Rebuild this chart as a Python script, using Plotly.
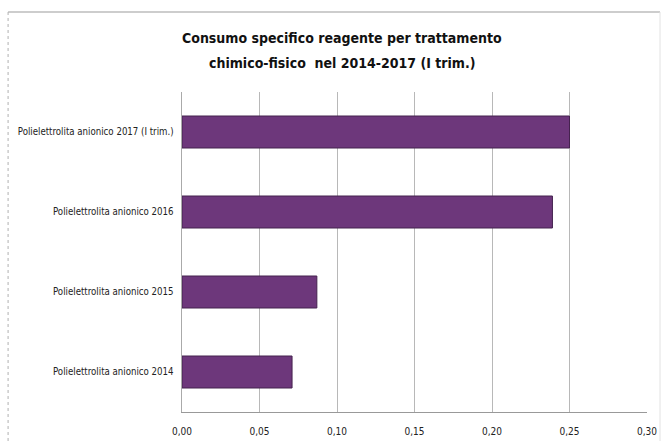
import plotly.graph_objects as go

categories = ["Polielettrolita anionico 2014", "Polielettrolita anionico 2015",
              "Polielettrolita anionico 2016", "Polielettrolita anionico 2017 (I trim.)"]
values = [0.071, 0.087, 0.239, 0.25]
tick_vals = [0, 0.05, 0.10, 0.15, 0.20, 0.25, 0.30]
tick_text = ["0,00", "0,05", "0,10", "0,15", "0,20", "0,25", "0,30"]
title_lines = ["Consumo specifico reagente per trattamento",
               "chimico-fisico  nel 2014-2017 (I trim.)"]

FONT = "DejaVu Sans Condensed, Roboto, sans-serif"

fig = go.Figure(go.Bar(
    x=values, y=categories, orientation="h",
    marker=dict(color="#6d377b", line=dict(color="#45224f", width=1)),
))

annotations = [
    dict(text=t, xref="paper", yref="paper", x=0.345, y=yy, xanchor="center",
         yanchor="middle", showarrow=False,
         font=dict(family=FONT, size=14, color="#111", weight="bold"))
    for t, yy in zip(title_lines, [1.169, 1.0906])
]

fig.update_layout(
    width=662, height=441,
    margin=dict(l=182, r=15, t=92, b=29),
    paper_bgcolor="white", plot_bgcolor="white",
    bargap=0.6,
    showlegend=False,
    font=dict(family=FONT, size=9, color="#222"),
    annotations=annotations,
    xaxis=dict(range=[0, 0.30], tickvals=tick_vals, ticktext=tick_text,
               showgrid=True, gridcolor="#b8b8b8", gridwidth=1,
               showline=True, linecolor="#999", linewidth=1, automargin=False,
               ticks="", zeroline=False, ticklabelstandoff=10,
               tickfont=dict(size=10, color="#222")),
    yaxis=dict(showline=True, linecolor="#aaa", linewidth=1, ticks="", automargin=False,
               ticklen=0, showgrid=False, zeroline=False, ticksuffix="  ",
               tickfont=dict(size=9.6, color="#222")),
    shapes=[
        dict(type="line", xref="paper", yref="paper", x0=-0.374, x1=1.028, y0=1.25, y1=1.25,
             line=dict(color="#bdbdbd", width=1.5)),
        dict(type="line", xref="paper", yref="paper", x0=-0.374, x1=-0.374, y0=1.25, y1=-0.12,
             line=dict(color="#b0b0b0", width=1, dash="dot")),
        dict(type="line", xref="paper", yref="paper", x0=1.028, x1=1.028, y0=1.25, y1=-0.12,
             line=dict(color="#e2e2e2", width=1)),
    ],
)

fig.write_html("out.html")
